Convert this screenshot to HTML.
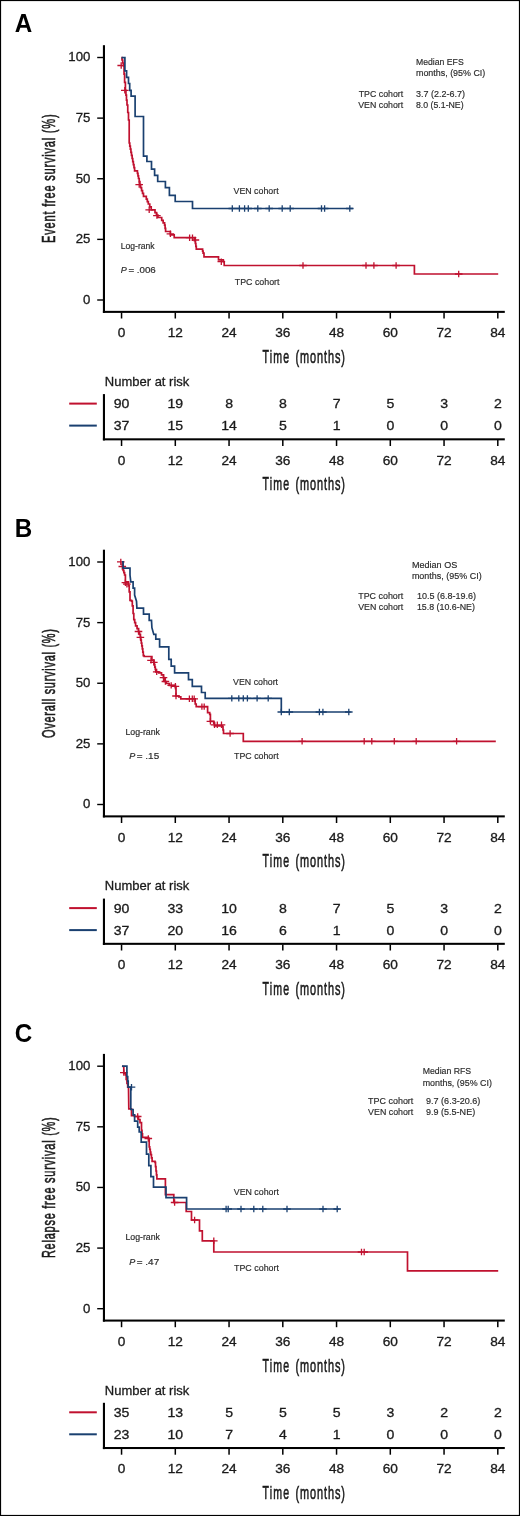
<!DOCTYPE html>
<html><head><meta charset="utf-8"><style>
html,body{margin:0;padding:0;background:#fff;}
body{width:520px;height:1516px;overflow:hidden;}
svg{display:block;will-change:transform;font-family:"Liberation Sans",sans-serif;}
</style></head><body>
<svg width="520" height="1516" viewBox="0 0 520 1516">
<rect x="0" y="0" width="520" height="1516" fill="#fff"/>
<g>
<text transform="translate(14.80,32.10) scale(0.9322,1)" font-size="26" font-weight="bold" font-style="normal" fill="#000">A</text>
<rect x="102.9" y="45.20" width="2.1" height="267.70" fill="#000"/>
<rect x="102.9" y="310.85" width="401.90" height="2.05" fill="#000"/>
<rect x="97.2" y="299.30" width="6" height="1.4" fill="#000"/>
<text transform="translate(83.06,303.90) scale(1.0400,1)" font-size="12.7" font-weight="normal" font-style="normal" fill="#1a1a1a" stroke="#1a1a1a" stroke-width="0.3">0</text>
<rect x="97.2" y="238.68" width="6" height="1.4" fill="#000"/>
<text transform="translate(75.71,243.28) scale(1.0400,1)" font-size="12.7" font-weight="normal" font-style="normal" fill="#1a1a1a" stroke="#1a1a1a" stroke-width="0.3">25</text>
<rect x="97.2" y="178.05" width="6" height="1.4" fill="#000"/>
<text transform="translate(75.71,182.65) scale(1.0400,1)" font-size="12.7" font-weight="normal" font-style="normal" fill="#1a1a1a" stroke="#1a1a1a" stroke-width="0.3">50</text>
<rect x="97.2" y="117.42" width="6" height="1.4" fill="#000"/>
<text transform="translate(75.71,122.03) scale(1.0400,1)" font-size="12.7" font-weight="normal" font-style="normal" fill="#1a1a1a" stroke="#1a1a1a" stroke-width="0.3">75</text>
<rect x="97.2" y="56.80" width="6" height="1.4" fill="#000"/>
<text transform="translate(68.37,61.40) scale(1.0400,1)" font-size="12.7" font-weight="normal" font-style="normal" fill="#1a1a1a" stroke="#1a1a1a" stroke-width="0.3">100</text>
<rect x="120.80" y="312.50" width="1.5" height="6" fill="#000"/>
<text transform="translate(117.75,337.40) scale(1.1200,1)" font-size="12.2" font-weight="normal" font-style="normal" fill="#1a1a1a" stroke="#1a1a1a" stroke-width="0.3">0</text>
<rect x="174.55" y="312.50" width="1.5" height="6" fill="#000"/>
<text transform="translate(167.70,337.40) scale(1.1200,1)" font-size="12.2" font-weight="normal" font-style="normal" fill="#1a1a1a" stroke="#1a1a1a" stroke-width="0.3">12</text>
<rect x="228.30" y="312.50" width="1.5" height="6" fill="#000"/>
<text transform="translate(221.45,337.40) scale(1.1200,1)" font-size="12.2" font-weight="normal" font-style="normal" fill="#1a1a1a" stroke="#1a1a1a" stroke-width="0.3">24</text>
<rect x="282.05" y="312.50" width="1.5" height="6" fill="#000"/>
<text transform="translate(275.20,337.40) scale(1.1200,1)" font-size="12.2" font-weight="normal" font-style="normal" fill="#1a1a1a" stroke="#1a1a1a" stroke-width="0.3">36</text>
<rect x="335.80" y="312.50" width="1.5" height="6" fill="#000"/>
<text transform="translate(328.95,337.40) scale(1.1200,1)" font-size="12.2" font-weight="normal" font-style="normal" fill="#1a1a1a" stroke="#1a1a1a" stroke-width="0.3">48</text>
<rect x="389.55" y="312.50" width="1.5" height="6" fill="#000"/>
<text transform="translate(382.70,337.40) scale(1.1200,1)" font-size="12.2" font-weight="normal" font-style="normal" fill="#1a1a1a" stroke="#1a1a1a" stroke-width="0.3">60</text>
<rect x="443.30" y="312.50" width="1.5" height="6" fill="#000"/>
<text transform="translate(436.45,337.40) scale(1.1200,1)" font-size="12.2" font-weight="normal" font-style="normal" fill="#1a1a1a" stroke="#1a1a1a" stroke-width="0.3">72</text>
<rect x="497.05" y="312.50" width="1.5" height="6" fill="#000"/>
<text transform="translate(490.20,337.40) scale(1.1200,1)" font-size="12.2" font-weight="normal" font-style="normal" fill="#1a1a1a" stroke="#1a1a1a" stroke-width="0.3">84</text>
<text transform="translate(262.60,362.90) scale(0.5819,1)" font-size="18.2" font-weight="normal" font-style="normal" fill="#1a1a1a" stroke="#1a1a1a" stroke-width="0.6" letter-spacing="1.981">Time</text>
<text transform="translate(295.40,362.90) scale(0.5998,1)" font-size="18.2" font-weight="normal" font-style="normal" fill="#1a1a1a" stroke="#1a1a1a" stroke-width="0.6" letter-spacing="1.533">(months)</text>
<text transform="translate(54.90,242.90) rotate(-90) scale(0.5980,1)" font-size="18.6" font-weight="normal" font-style="normal" fill="#1a1a1a" stroke="#1a1a1a" stroke-width="0.6" letter-spacing="1.271">Event free survival (%)</text>
<text transform="translate(416.00,65.40) scale(0.8757,1)" font-size="9.9" font-weight="normal" font-style="normal" fill="#2b2b2b" stroke="#2b2b2b" stroke-width="0.18">Median EFS</text>
<text transform="translate(416.00,76.30) scale(0.9010,1)" font-size="9.9" font-weight="normal" font-style="normal" fill="#2b2b2b" stroke="#2b2b2b" stroke-width="0.18">months, (95% CI)</text>
<text transform="translate(358.75,97.10) scale(0.8889,1)" font-size="9.9" font-weight="normal" font-style="normal" fill="#2b2b2b" stroke="#2b2b2b" stroke-width="0.18">TPC cohort</text>
<text transform="translate(416.00,97.10) scale(0.9087,1)" font-size="9.9" font-weight="normal" font-style="normal" fill="#2b2b2b" stroke="#2b2b2b" stroke-width="0.18">3.7 (2.2-6.7)</text>
<text transform="translate(358.25,107.70) scale(0.8890,1)" font-size="9.9" font-weight="normal" font-style="normal" fill="#2b2b2b" stroke="#2b2b2b" stroke-width="0.18">VEN cohort</text>
<text transform="translate(416.00,107.70) scale(0.8847,1)" font-size="9.9" font-weight="normal" font-style="normal" fill="#2b2b2b" stroke="#2b2b2b" stroke-width="0.18">8.0 (5.1-NE)</text>
<text transform="translate(233.50,194.40) scale(0.8939,1)" font-size="9.9" font-weight="normal" font-style="normal" fill="#2b2b2b" stroke="#2b2b2b" stroke-width="0.18">VEN cohort</text>
<text transform="translate(234.75,284.50) scale(0.8958,1)" font-size="9.9" font-weight="normal" font-style="normal" fill="#2b2b2b" stroke="#2b2b2b" stroke-width="0.18">TPC cohort</text>
<text transform="translate(120.80,248.50) scale(0.9510,1)" font-size="9.0" font-weight="normal" font-style="normal" fill="#2b2b2b" stroke="#2b2b2b" stroke-width="0.18">Log-rank</text>
<text transform="translate(120.80,272.80) scale(1.0000,1)" font-size="9.0" font-weight="normal" font-style="italic" fill="#2b2b2b" stroke="#2b2b2b" stroke-width="0.18">P</text>
<text transform="translate(128.40,272.80) scale(1.0841,1)" font-size="9.0" font-weight="normal" font-style="normal" fill="#2b2b2b" stroke="#2b2b2b" stroke-width="0.18">= .006</text>
<path d="M121.50,57.60 H122.00V60.00 H122.75V63.00 H123.50V66.00 H124.05V74.15 H124.60V82.30 H125.40V90.30 H125.93V95.20 H126.47V100.10 H127.00V105.00 H127.75V112.50 H128.50V120.00 H129.20V143.00 H129.77V146.10 H130.35V149.20 H130.93V152.30 H131.50V155.40 H132.12V158.48 H132.74V161.56 H133.36V164.64 H133.98V167.72 H134.60V170.80 L136.90,170.80 H137.43V173.37 H137.97V175.93 H138.50V178.50 H139.20V181.57 H139.90V184.63 H140.60V187.70 H141.57V190.57 H142.53V193.43 H143.50V196.30 H146.30V199.20 H147.30V201.60 H148.30V204.00 H149.75V206.90 H151.20V209.80 H155.00V212.70 H156.45V215.10 H157.90V217.50 H161.70V220.40 H163.15V222.80 H164.60V225.20 H165.10V228.35 H165.60V231.50 L168.50,231.50 H170.40V234.80 L174.20,234.80 L174.20,237.70 L193.50,237.70 H194.45V240.60 H195.40V243.50 H195.85V246.35 H196.30V249.20 L202.10,249.20 H202.60V251.15 H203.10V253.10 H204.00V256.90 L217.50,256.90 H218.50V259.80 H223.30V261.70 H224.20V265.50 L414.40,265.50 L414.40,274.00 L498.20,274.00" fill="none" stroke="#c0112f" stroke-width="1.7" stroke-linejoin="miter" stroke-linecap="butt"/>
<path d="M117.4,65.5h7.6M121.2,62.3v6.4M121.0,90.3h7.6M124.8,87.1v6.4M135.4,184.6h7.6M139.2,181.4v6.4M145.4,209.8h7.6M149.2,206.6v6.4M153.1,215.6h7.6M156.9,212.4v6.4M166.6,233.8h7.6M170.4,230.6v6.4M185.8,237.7h7.6M189.6,234.5v6.4M188.7,237.7h7.6M192.5,234.5v6.4M191.6,240.0h7.6M195.4,236.8v6.4M217.5,261.7h7.6M221.3,258.5v6.4M299.2,265.5h7.6M303.0,262.3v6.4M362.2,265.5h7.6M366.0,262.3v6.4M370.1,265.5h7.6M373.9,262.3v6.4M392.3,265.5h7.6M396.1,262.3v6.4M454.9,274.0h7.6M458.7,270.8v6.4" fill="none" stroke="#c0112f" stroke-width="1.3"/>
<path d="M121.5,57.6 H124.9 V70.8 H126.6 V77.4 H128.5 V83.5 H129.7 V90.3 H131.1 V96.2 H135.1 V116.5 H143.5 V156.2 H146.9 V161.5 H151.5 V169.2 H154.6 V175.4 H157.7 V181.5 H165.4 V187.7 H169.4 V195.4 H175.2 V201.5 H192.5 V208.5 H352.9" fill="none" stroke="#1a4070" stroke-width="1.7" stroke-linejoin="miter" stroke-linecap="butt"/>
<path d="M228.5,208.5h7.6M232.3,205.3v6.4M235.6,208.5h7.6M239.4,205.3v6.4M240.8,208.5h7.6M244.6,205.3v6.4M244.5,208.5h7.6M248.3,205.3v6.4M254.0,208.5h7.6M257.8,205.3v6.4M265.4,208.5h7.6M269.2,205.3v6.4M278.4,208.5h7.6M282.2,205.3v6.4M286.4,208.5h7.6M290.2,205.3v6.4M317.7,208.5h7.6M321.5,205.3v6.4M320.8,208.5h7.6M324.6,205.3v6.4M346.0,208.5h7.6M349.8,205.3v6.4" fill="none" stroke="#1a4070" stroke-width="1.3"/>
<text transform="translate(104.80,385.80) scale(0.9854,1)" font-size="13.2" font-weight="normal" font-style="normal" fill="#1a1a1a" stroke="#1a1a1a" stroke-width="0.3">Number at risk</text>
<rect x="69.2" y="402.60" width="27.6" height="2" fill="#c0112f"/>
<rect x="69.2" y="424.60" width="27.6" height="2" fill="#1a4070"/>
<rect x="102.9" y="394.10" width="2.1" height="46.30" fill="#000"/>
<rect x="102.9" y="438.30" width="401.90" height="2.05" fill="#000"/>
<rect x="120.80" y="440.00" width="1.5" height="6" fill="#000"/>
<text transform="translate(117.75,464.60) scale(1.1200,1)" font-size="12.2" font-weight="normal" font-style="normal" fill="#1a1a1a" stroke="#1a1a1a" stroke-width="0.3">0</text>
<text transform="translate(113.70,408.00) scale(1.1200,1)" font-size="12.6" font-weight="normal" font-style="normal" fill="#1a1a1a" stroke="#1a1a1a" stroke-width="0.3">90</text>
<text transform="translate(113.70,430.00) scale(1.1200,1)" font-size="12.6" font-weight="normal" font-style="normal" fill="#1a1a1a" stroke="#1a1a1a" stroke-width="0.3">37</text>
<rect x="174.55" y="440.00" width="1.5" height="6" fill="#000"/>
<text transform="translate(167.70,464.60) scale(1.1200,1)" font-size="12.2" font-weight="normal" font-style="normal" fill="#1a1a1a" stroke="#1a1a1a" stroke-width="0.3">12</text>
<text transform="translate(167.45,408.00) scale(1.1200,1)" font-size="12.6" font-weight="normal" font-style="normal" fill="#1a1a1a" stroke="#1a1a1a" stroke-width="0.3">19</text>
<text transform="translate(167.45,430.00) scale(1.1200,1)" font-size="12.6" font-weight="normal" font-style="normal" fill="#1a1a1a" stroke="#1a1a1a" stroke-width="0.3">15</text>
<rect x="228.30" y="440.00" width="1.5" height="6" fill="#000"/>
<text transform="translate(221.45,464.60) scale(1.1200,1)" font-size="12.2" font-weight="normal" font-style="normal" fill="#1a1a1a" stroke="#1a1a1a" stroke-width="0.3">24</text>
<text transform="translate(225.13,408.00) scale(1.1200,1)" font-size="12.6" font-weight="normal" font-style="normal" fill="#1a1a1a" stroke="#1a1a1a" stroke-width="0.3">8</text>
<text transform="translate(221.20,430.00) scale(1.1200,1)" font-size="12.6" font-weight="normal" font-style="normal" fill="#1a1a1a" stroke="#1a1a1a" stroke-width="0.3">14</text>
<rect x="282.05" y="440.00" width="1.5" height="6" fill="#000"/>
<text transform="translate(275.20,464.60) scale(1.1200,1)" font-size="12.2" font-weight="normal" font-style="normal" fill="#1a1a1a" stroke="#1a1a1a" stroke-width="0.3">36</text>
<text transform="translate(278.88,408.00) scale(1.1200,1)" font-size="12.6" font-weight="normal" font-style="normal" fill="#1a1a1a" stroke="#1a1a1a" stroke-width="0.3">8</text>
<text transform="translate(278.88,430.00) scale(1.1200,1)" font-size="12.6" font-weight="normal" font-style="normal" fill="#1a1a1a" stroke="#1a1a1a" stroke-width="0.3">5</text>
<rect x="335.80" y="440.00" width="1.5" height="6" fill="#000"/>
<text transform="translate(328.95,464.60) scale(1.1200,1)" font-size="12.2" font-weight="normal" font-style="normal" fill="#1a1a1a" stroke="#1a1a1a" stroke-width="0.3">48</text>
<text transform="translate(332.63,408.00) scale(1.1200,1)" font-size="12.6" font-weight="normal" font-style="normal" fill="#1a1a1a" stroke="#1a1a1a" stroke-width="0.3">7</text>
<text transform="translate(332.63,430.00) scale(1.1200,1)" font-size="12.6" font-weight="normal" font-style="normal" fill="#1a1a1a" stroke="#1a1a1a" stroke-width="0.3">1</text>
<rect x="389.55" y="440.00" width="1.5" height="6" fill="#000"/>
<text transform="translate(382.70,464.60) scale(1.1200,1)" font-size="12.2" font-weight="normal" font-style="normal" fill="#1a1a1a" stroke="#1a1a1a" stroke-width="0.3">60</text>
<text transform="translate(386.38,408.00) scale(1.1200,1)" font-size="12.6" font-weight="normal" font-style="normal" fill="#1a1a1a" stroke="#1a1a1a" stroke-width="0.3">5</text>
<text transform="translate(386.38,430.00) scale(1.1200,1)" font-size="12.6" font-weight="normal" font-style="normal" fill="#1a1a1a" stroke="#1a1a1a" stroke-width="0.3">0</text>
<rect x="443.30" y="440.00" width="1.5" height="6" fill="#000"/>
<text transform="translate(436.45,464.60) scale(1.1200,1)" font-size="12.2" font-weight="normal" font-style="normal" fill="#1a1a1a" stroke="#1a1a1a" stroke-width="0.3">72</text>
<text transform="translate(440.13,408.00) scale(1.1200,1)" font-size="12.6" font-weight="normal" font-style="normal" fill="#1a1a1a" stroke="#1a1a1a" stroke-width="0.3">3</text>
<text transform="translate(440.13,430.00) scale(1.1200,1)" font-size="12.6" font-weight="normal" font-style="normal" fill="#1a1a1a" stroke="#1a1a1a" stroke-width="0.3">0</text>
<rect x="497.05" y="440.00" width="1.5" height="6" fill="#000"/>
<text transform="translate(490.20,464.60) scale(1.1200,1)" font-size="12.2" font-weight="normal" font-style="normal" fill="#1a1a1a" stroke="#1a1a1a" stroke-width="0.3">84</text>
<text transform="translate(493.88,408.00) scale(1.1200,1)" font-size="12.6" font-weight="normal" font-style="normal" fill="#1a1a1a" stroke="#1a1a1a" stroke-width="0.3">2</text>
<text transform="translate(493.88,430.00) scale(1.1200,1)" font-size="12.6" font-weight="normal" font-style="normal" fill="#1a1a1a" stroke="#1a1a1a" stroke-width="0.3">0</text>
<text transform="translate(262.60,490.40) scale(0.5819,1)" font-size="18.2" font-weight="normal" font-style="normal" fill="#1a1a1a" stroke="#1a1a1a" stroke-width="0.6" letter-spacing="1.981">Time</text>
<text transform="translate(295.40,490.40) scale(0.5998,1)" font-size="18.2" font-weight="normal" font-style="normal" fill="#1a1a1a" stroke="#1a1a1a" stroke-width="0.6" letter-spacing="1.533">(months)</text>
</g>
<g>
<text transform="translate(14.80,537.00) scale(0.9322,1)" font-size="26" font-weight="bold" font-style="normal" fill="#000">B</text>
<rect x="102.9" y="549.70" width="2.1" height="267.70" fill="#000"/>
<rect x="102.9" y="815.35" width="401.90" height="2.05" fill="#000"/>
<rect x="97.2" y="803.80" width="6" height="1.4" fill="#000"/>
<text transform="translate(83.06,808.40) scale(1.0400,1)" font-size="12.7" font-weight="normal" font-style="normal" fill="#1a1a1a" stroke="#1a1a1a" stroke-width="0.3">0</text>
<rect x="97.2" y="743.17" width="6" height="1.4" fill="#000"/>
<text transform="translate(75.71,747.77) scale(1.0400,1)" font-size="12.7" font-weight="normal" font-style="normal" fill="#1a1a1a" stroke="#1a1a1a" stroke-width="0.3">25</text>
<rect x="97.2" y="682.55" width="6" height="1.4" fill="#000"/>
<text transform="translate(75.71,687.15) scale(1.0400,1)" font-size="12.7" font-weight="normal" font-style="normal" fill="#1a1a1a" stroke="#1a1a1a" stroke-width="0.3">50</text>
<rect x="97.2" y="621.92" width="6" height="1.4" fill="#000"/>
<text transform="translate(75.71,626.52) scale(1.0400,1)" font-size="12.7" font-weight="normal" font-style="normal" fill="#1a1a1a" stroke="#1a1a1a" stroke-width="0.3">75</text>
<rect x="97.2" y="561.30" width="6" height="1.4" fill="#000"/>
<text transform="translate(68.37,565.90) scale(1.0400,1)" font-size="12.7" font-weight="normal" font-style="normal" fill="#1a1a1a" stroke="#1a1a1a" stroke-width="0.3">100</text>
<rect x="120.80" y="817.00" width="1.5" height="6" fill="#000"/>
<text transform="translate(117.75,841.90) scale(1.1200,1)" font-size="12.2" font-weight="normal" font-style="normal" fill="#1a1a1a" stroke="#1a1a1a" stroke-width="0.3">0</text>
<rect x="174.55" y="817.00" width="1.5" height="6" fill="#000"/>
<text transform="translate(167.70,841.90) scale(1.1200,1)" font-size="12.2" font-weight="normal" font-style="normal" fill="#1a1a1a" stroke="#1a1a1a" stroke-width="0.3">12</text>
<rect x="228.30" y="817.00" width="1.5" height="6" fill="#000"/>
<text transform="translate(221.45,841.90) scale(1.1200,1)" font-size="12.2" font-weight="normal" font-style="normal" fill="#1a1a1a" stroke="#1a1a1a" stroke-width="0.3">24</text>
<rect x="282.05" y="817.00" width="1.5" height="6" fill="#000"/>
<text transform="translate(275.20,841.90) scale(1.1200,1)" font-size="12.2" font-weight="normal" font-style="normal" fill="#1a1a1a" stroke="#1a1a1a" stroke-width="0.3">36</text>
<rect x="335.80" y="817.00" width="1.5" height="6" fill="#000"/>
<text transform="translate(328.95,841.90) scale(1.1200,1)" font-size="12.2" font-weight="normal" font-style="normal" fill="#1a1a1a" stroke="#1a1a1a" stroke-width="0.3">48</text>
<rect x="389.55" y="817.00" width="1.5" height="6" fill="#000"/>
<text transform="translate(382.70,841.90) scale(1.1200,1)" font-size="12.2" font-weight="normal" font-style="normal" fill="#1a1a1a" stroke="#1a1a1a" stroke-width="0.3">60</text>
<rect x="443.30" y="817.00" width="1.5" height="6" fill="#000"/>
<text transform="translate(436.45,841.90) scale(1.1200,1)" font-size="12.2" font-weight="normal" font-style="normal" fill="#1a1a1a" stroke="#1a1a1a" stroke-width="0.3">72</text>
<rect x="497.05" y="817.00" width="1.5" height="6" fill="#000"/>
<text transform="translate(490.20,841.90) scale(1.1200,1)" font-size="12.2" font-weight="normal" font-style="normal" fill="#1a1a1a" stroke="#1a1a1a" stroke-width="0.3">84</text>
<text transform="translate(262.60,867.40) scale(0.5819,1)" font-size="18.2" font-weight="normal" font-style="normal" fill="#1a1a1a" stroke="#1a1a1a" stroke-width="0.6" letter-spacing="1.981">Time</text>
<text transform="translate(295.40,867.40) scale(0.5998,1)" font-size="18.2" font-weight="normal" font-style="normal" fill="#1a1a1a" stroke="#1a1a1a" stroke-width="0.6" letter-spacing="1.533">(months)</text>
<text transform="translate(54.90,738.00) rotate(-90) scale(0.5882,1)" font-size="18.6" font-weight="normal" font-style="normal" fill="#1a1a1a" stroke="#1a1a1a" stroke-width="0.6" letter-spacing="1.268">Overall survival (%)</text>
<text transform="translate(411.90,568.10) scale(0.9168,1)" font-size="9.9" font-weight="normal" font-style="normal" fill="#2b2b2b" stroke="#2b2b2b" stroke-width="0.18">Median OS</text>
<text transform="translate(411.90,578.50) scale(0.9062,1)" font-size="9.9" font-weight="normal" font-style="normal" fill="#2b2b2b" stroke="#2b2b2b" stroke-width="0.18">months, (95% CI)</text>
<text transform="translate(358.20,599.40) scale(0.9008,1)" font-size="9.9" font-weight="normal" font-style="normal" fill="#2b2b2b" stroke="#2b2b2b" stroke-width="0.18">TPC cohort</text>
<text transform="translate(416.90,599.40) scale(0.9100,1)" font-size="9.9" font-weight="normal" font-style="normal" fill="#2b2b2b" stroke="#2b2b2b" stroke-width="0.18">10.5 (6.8-19.6)</text>
<text transform="translate(358.20,609.80) scale(0.8910,1)" font-size="9.9" font-weight="normal" font-style="normal" fill="#2b2b2b" stroke="#2b2b2b" stroke-width="0.18">VEN cohort</text>
<text transform="translate(416.90,609.80) scale(0.8948,1)" font-size="9.9" font-weight="normal" font-style="normal" fill="#2b2b2b" stroke="#2b2b2b" stroke-width="0.18">15.8 (10.6-NE)</text>
<text transform="translate(233.10,684.75) scale(0.8890,1)" font-size="9.9" font-weight="normal" font-style="normal" fill="#2b2b2b" stroke="#2b2b2b" stroke-width="0.18">VEN cohort</text>
<text transform="translate(234.00,758.75) scale(0.8939,1)" font-size="9.9" font-weight="normal" font-style="normal" fill="#2b2b2b" stroke="#2b2b2b" stroke-width="0.18">TPC cohort</text>
<text transform="translate(125.40,734.60) scale(0.9735,1)" font-size="9.0" font-weight="normal" font-style="normal" fill="#2b2b2b" stroke="#2b2b2b" stroke-width="0.18">Log-rank</text>
<text transform="translate(129.20,758.90) scale(1.0000,1)" font-size="9.0" font-weight="normal" font-style="italic" fill="#2b2b2b" stroke="#2b2b2b" stroke-width="0.18">P</text>
<text transform="translate(136.80,758.90) scale(1.1050,1)" font-size="9.0" font-weight="normal" font-style="normal" fill="#2b2b2b" stroke="#2b2b2b" stroke-width="0.18">= .15</text>
<path d="M122.00,561.80 H122.55V566.10 H123.10V570.40 H123.85V572.70 H124.60V575.00 H125.40V581.90 H128.50V585.80 H129.20V591.90 H130.00V600.40 H131.50V601.20 H132.30V605.80 H133.10V613.50 H133.80V619.60 H134.70V622.70 H135.60V625.80 H137.05V628.65 H138.50V631.50 H139.45V634.40 H140.40V637.30 H140.85V640.20 H141.30V643.10 H141.80V645.95 H142.30V648.80 H142.80V652.20 H143.30V655.60 H144.20V656.50 L150.00,656.50 H151.90V660.40 H153.80V662.30 H154.30V664.70 H154.80V667.10 H155.30V669.50 H155.80V671.90 H158.70V672.90 H161.50V674.80 H163.50V677.70 H164.40V681.50 H166.30V683.50 H169.20V685.40 L172.10,685.40 H175.40V687.30 H176.00V696.00 H178.80V696.90 H180.80V698.80 L195.20,698.80 L195.20,704.00 H196.20V706.60 L207.00,706.60 H207.60V712.70 H209.70V714.40 H210.40V721.30 H213.80V723.10 H214.50V725.80 H222.50V726.50 H223.00V730.00 H223.50V733.50 L243.30,733.50 L243.30,741.30 L495.80,741.30" fill="none" stroke="#c0112f" stroke-width="1.7" stroke-linejoin="miter" stroke-linecap="butt"/>
<path d="M117.0,561.9h7.6M120.8,558.7v6.4M118.5,566.5h7.6M122.3,563.3v6.4M121.6,582.7h7.6M125.4,579.5v6.4M123.1,584.2h7.6M126.9,581.0v6.4M134.7,631.5h7.6M138.5,628.3v6.4M136.6,637.3h7.6M140.4,634.1v6.4M147.2,660.4h7.6M151.0,657.2v6.4M150.0,662.3h7.6M153.8,659.1v6.4M152.9,671.9h7.6M156.7,668.7v6.4M159.7,677.7h7.6M163.5,674.5v6.4M161.6,681.5h7.6M165.4,678.3v6.4M167.4,685.4h7.6M171.2,682.2v6.4M171.6,686.3h7.6M175.4,683.1v6.4M172.2,696.0h7.6M176.0,692.8v6.4M185.6,698.8h7.6M189.4,695.6v6.4M188.5,698.8h7.6M192.3,695.6v6.4M190.4,698.8h7.6M194.2,695.6v6.4M198.1,706.6h7.6M201.9,703.4v6.4M200.4,706.6h7.6M204.2,703.4v6.4M206.6,721.3h7.6M210.4,718.1v6.4M210.7,724.8h7.6M214.5,721.6v6.4M213.5,724.8h7.6M217.3,721.6v6.4M217.7,724.8h7.6M221.5,721.6v6.4M226.3,733.5h7.6M230.1,730.3v6.4M298.3,741.3h7.6M302.1,738.1v6.4M360.4,741.3h7.6M364.2,738.1v6.4M368.0,741.3h7.6M371.8,738.1v6.4M390.5,741.3h7.6M394.3,738.1v6.4M412.4,741.3h7.6M416.2,738.1v6.4M452.8,741.3h7.6M456.6,738.1v6.4" fill="none" stroke="#c0112f" stroke-width="1.3"/>
<path d="M122,561.8 H123.1 V568.1 H130 V575 L130.8,581.9 H133.1 V588.1 H134.6 V595 L136.5,601.2 L136.9,608.1 H143.5 V614.2 H149.2 V620.4 H151.5 L151.9,627.7 L153.8,634.4 H155.8 V639.2 H159.6 V646.9 H168.8 V659.4 H171.2 V666.2 H174.6 V672.9 H188.5 V679.6 H192.3 V686.3 H201.5 V692.5 H205.2 V698.4 H281.3 V712 H350.6" fill="none" stroke="#1a4070" stroke-width="1.7" stroke-linejoin="miter" stroke-linecap="butt"/>
<path d="M228.0,698.4h7.6M231.8,695.2v6.4M235.0,698.4h7.6M238.8,695.2v6.4M239.5,698.4h7.6M243.3,695.2v6.4M243.6,698.4h7.6M247.4,695.2v6.4M253.3,698.4h7.6M257.1,695.2v6.4M264.4,698.4h7.6M268.2,695.2v6.4M277.5,712.0h7.6M281.3,708.8v6.4M285.5,712.0h7.6M289.3,708.8v6.4M315.6,712.0h7.6M319.4,708.8v6.4M319.1,712.0h7.6M322.9,708.8v6.4M345.0,712.0h7.6M348.8,708.8v6.4" fill="none" stroke="#1a4070" stroke-width="1.3"/>
<text transform="translate(104.80,890.30) scale(0.9854,1)" font-size="13.2" font-weight="normal" font-style="normal" fill="#1a1a1a" stroke="#1a1a1a" stroke-width="0.3">Number at risk</text>
<rect x="69.2" y="907.10" width="27.6" height="2" fill="#c0112f"/>
<rect x="69.2" y="929.10" width="27.6" height="2" fill="#1a4070"/>
<rect x="102.9" y="898.60" width="2.1" height="46.30" fill="#000"/>
<rect x="102.9" y="942.80" width="401.90" height="2.05" fill="#000"/>
<rect x="120.80" y="944.50" width="1.5" height="6" fill="#000"/>
<text transform="translate(117.75,969.10) scale(1.1200,1)" font-size="12.2" font-weight="normal" font-style="normal" fill="#1a1a1a" stroke="#1a1a1a" stroke-width="0.3">0</text>
<text transform="translate(113.70,912.50) scale(1.1200,1)" font-size="12.6" font-weight="normal" font-style="normal" fill="#1a1a1a" stroke="#1a1a1a" stroke-width="0.3">90</text>
<text transform="translate(113.70,934.50) scale(1.1200,1)" font-size="12.6" font-weight="normal" font-style="normal" fill="#1a1a1a" stroke="#1a1a1a" stroke-width="0.3">37</text>
<rect x="174.55" y="944.50" width="1.5" height="6" fill="#000"/>
<text transform="translate(167.70,969.10) scale(1.1200,1)" font-size="12.2" font-weight="normal" font-style="normal" fill="#1a1a1a" stroke="#1a1a1a" stroke-width="0.3">12</text>
<text transform="translate(167.45,912.50) scale(1.1200,1)" font-size="12.6" font-weight="normal" font-style="normal" fill="#1a1a1a" stroke="#1a1a1a" stroke-width="0.3">33</text>
<text transform="translate(167.45,934.50) scale(1.1200,1)" font-size="12.6" font-weight="normal" font-style="normal" fill="#1a1a1a" stroke="#1a1a1a" stroke-width="0.3">20</text>
<rect x="228.30" y="944.50" width="1.5" height="6" fill="#000"/>
<text transform="translate(221.45,969.10) scale(1.1200,1)" font-size="12.2" font-weight="normal" font-style="normal" fill="#1a1a1a" stroke="#1a1a1a" stroke-width="0.3">24</text>
<text transform="translate(221.20,912.50) scale(1.1200,1)" font-size="12.6" font-weight="normal" font-style="normal" fill="#1a1a1a" stroke="#1a1a1a" stroke-width="0.3">10</text>
<text transform="translate(221.20,934.50) scale(1.1200,1)" font-size="12.6" font-weight="normal" font-style="normal" fill="#1a1a1a" stroke="#1a1a1a" stroke-width="0.3">16</text>
<rect x="282.05" y="944.50" width="1.5" height="6" fill="#000"/>
<text transform="translate(275.20,969.10) scale(1.1200,1)" font-size="12.2" font-weight="normal" font-style="normal" fill="#1a1a1a" stroke="#1a1a1a" stroke-width="0.3">36</text>
<text transform="translate(278.88,912.50) scale(1.1200,1)" font-size="12.6" font-weight="normal" font-style="normal" fill="#1a1a1a" stroke="#1a1a1a" stroke-width="0.3">8</text>
<text transform="translate(278.88,934.50) scale(1.1200,1)" font-size="12.6" font-weight="normal" font-style="normal" fill="#1a1a1a" stroke="#1a1a1a" stroke-width="0.3">6</text>
<rect x="335.80" y="944.50" width="1.5" height="6" fill="#000"/>
<text transform="translate(328.95,969.10) scale(1.1200,1)" font-size="12.2" font-weight="normal" font-style="normal" fill="#1a1a1a" stroke="#1a1a1a" stroke-width="0.3">48</text>
<text transform="translate(332.63,912.50) scale(1.1200,1)" font-size="12.6" font-weight="normal" font-style="normal" fill="#1a1a1a" stroke="#1a1a1a" stroke-width="0.3">7</text>
<text transform="translate(332.63,934.50) scale(1.1200,1)" font-size="12.6" font-weight="normal" font-style="normal" fill="#1a1a1a" stroke="#1a1a1a" stroke-width="0.3">1</text>
<rect x="389.55" y="944.50" width="1.5" height="6" fill="#000"/>
<text transform="translate(382.70,969.10) scale(1.1200,1)" font-size="12.2" font-weight="normal" font-style="normal" fill="#1a1a1a" stroke="#1a1a1a" stroke-width="0.3">60</text>
<text transform="translate(386.38,912.50) scale(1.1200,1)" font-size="12.6" font-weight="normal" font-style="normal" fill="#1a1a1a" stroke="#1a1a1a" stroke-width="0.3">5</text>
<text transform="translate(386.38,934.50) scale(1.1200,1)" font-size="12.6" font-weight="normal" font-style="normal" fill="#1a1a1a" stroke="#1a1a1a" stroke-width="0.3">0</text>
<rect x="443.30" y="944.50" width="1.5" height="6" fill="#000"/>
<text transform="translate(436.45,969.10) scale(1.1200,1)" font-size="12.2" font-weight="normal" font-style="normal" fill="#1a1a1a" stroke="#1a1a1a" stroke-width="0.3">72</text>
<text transform="translate(440.13,912.50) scale(1.1200,1)" font-size="12.6" font-weight="normal" font-style="normal" fill="#1a1a1a" stroke="#1a1a1a" stroke-width="0.3">3</text>
<text transform="translate(440.13,934.50) scale(1.1200,1)" font-size="12.6" font-weight="normal" font-style="normal" fill="#1a1a1a" stroke="#1a1a1a" stroke-width="0.3">0</text>
<rect x="497.05" y="944.50" width="1.5" height="6" fill="#000"/>
<text transform="translate(490.20,969.10) scale(1.1200,1)" font-size="12.2" font-weight="normal" font-style="normal" fill="#1a1a1a" stroke="#1a1a1a" stroke-width="0.3">84</text>
<text transform="translate(493.88,912.50) scale(1.1200,1)" font-size="12.6" font-weight="normal" font-style="normal" fill="#1a1a1a" stroke="#1a1a1a" stroke-width="0.3">2</text>
<text transform="translate(493.88,934.50) scale(1.1200,1)" font-size="12.6" font-weight="normal" font-style="normal" fill="#1a1a1a" stroke="#1a1a1a" stroke-width="0.3">0</text>
<text transform="translate(262.60,994.90) scale(0.5819,1)" font-size="18.2" font-weight="normal" font-style="normal" fill="#1a1a1a" stroke="#1a1a1a" stroke-width="0.6" letter-spacing="1.981">Time</text>
<text transform="translate(295.40,994.90) scale(0.5998,1)" font-size="18.2" font-weight="normal" font-style="normal" fill="#1a1a1a" stroke="#1a1a1a" stroke-width="0.6" letter-spacing="1.533">(months)</text>
</g>
<g>
<text transform="translate(14.80,1041.70) scale(0.9322,1)" font-size="26" font-weight="bold" font-style="normal" fill="#000">C</text>
<rect x="102.9" y="1053.90" width="2.1" height="267.70" fill="#000"/>
<rect x="102.9" y="1319.55" width="401.90" height="2.05" fill="#000"/>
<rect x="97.2" y="1308.00" width="6" height="1.4" fill="#000"/>
<text transform="translate(83.06,1312.60) scale(1.0400,1)" font-size="12.7" font-weight="normal" font-style="normal" fill="#1a1a1a" stroke="#1a1a1a" stroke-width="0.3">0</text>
<rect x="97.2" y="1247.38" width="6" height="1.4" fill="#000"/>
<text transform="translate(75.71,1251.98) scale(1.0400,1)" font-size="12.7" font-weight="normal" font-style="normal" fill="#1a1a1a" stroke="#1a1a1a" stroke-width="0.3">25</text>
<rect x="97.2" y="1186.75" width="6" height="1.4" fill="#000"/>
<text transform="translate(75.71,1191.35) scale(1.0400,1)" font-size="12.7" font-weight="normal" font-style="normal" fill="#1a1a1a" stroke="#1a1a1a" stroke-width="0.3">50</text>
<rect x="97.2" y="1126.12" width="6" height="1.4" fill="#000"/>
<text transform="translate(75.71,1130.73) scale(1.0400,1)" font-size="12.7" font-weight="normal" font-style="normal" fill="#1a1a1a" stroke="#1a1a1a" stroke-width="0.3">75</text>
<rect x="97.2" y="1065.50" width="6" height="1.4" fill="#000"/>
<text transform="translate(68.37,1070.10) scale(1.0400,1)" font-size="12.7" font-weight="normal" font-style="normal" fill="#1a1a1a" stroke="#1a1a1a" stroke-width="0.3">100</text>
<rect x="120.80" y="1321.20" width="1.5" height="6" fill="#000"/>
<text transform="translate(117.75,1346.10) scale(1.1200,1)" font-size="12.2" font-weight="normal" font-style="normal" fill="#1a1a1a" stroke="#1a1a1a" stroke-width="0.3">0</text>
<rect x="174.55" y="1321.20" width="1.5" height="6" fill="#000"/>
<text transform="translate(167.70,1346.10) scale(1.1200,1)" font-size="12.2" font-weight="normal" font-style="normal" fill="#1a1a1a" stroke="#1a1a1a" stroke-width="0.3">12</text>
<rect x="228.30" y="1321.20" width="1.5" height="6" fill="#000"/>
<text transform="translate(221.45,1346.10) scale(1.1200,1)" font-size="12.2" font-weight="normal" font-style="normal" fill="#1a1a1a" stroke="#1a1a1a" stroke-width="0.3">24</text>
<rect x="282.05" y="1321.20" width="1.5" height="6" fill="#000"/>
<text transform="translate(275.20,1346.10) scale(1.1200,1)" font-size="12.2" font-weight="normal" font-style="normal" fill="#1a1a1a" stroke="#1a1a1a" stroke-width="0.3">36</text>
<rect x="335.80" y="1321.20" width="1.5" height="6" fill="#000"/>
<text transform="translate(328.95,1346.10) scale(1.1200,1)" font-size="12.2" font-weight="normal" font-style="normal" fill="#1a1a1a" stroke="#1a1a1a" stroke-width="0.3">48</text>
<rect x="389.55" y="1321.20" width="1.5" height="6" fill="#000"/>
<text transform="translate(382.70,1346.10) scale(1.1200,1)" font-size="12.2" font-weight="normal" font-style="normal" fill="#1a1a1a" stroke="#1a1a1a" stroke-width="0.3">60</text>
<rect x="443.30" y="1321.20" width="1.5" height="6" fill="#000"/>
<text transform="translate(436.45,1346.10) scale(1.1200,1)" font-size="12.2" font-weight="normal" font-style="normal" fill="#1a1a1a" stroke="#1a1a1a" stroke-width="0.3">72</text>
<rect x="497.05" y="1321.20" width="1.5" height="6" fill="#000"/>
<text transform="translate(490.20,1346.10) scale(1.1200,1)" font-size="12.2" font-weight="normal" font-style="normal" fill="#1a1a1a" stroke="#1a1a1a" stroke-width="0.3">84</text>
<text transform="translate(262.60,1371.60) scale(0.5819,1)" font-size="18.2" font-weight="normal" font-style="normal" fill="#1a1a1a" stroke="#1a1a1a" stroke-width="0.6" letter-spacing="1.981">Time</text>
<text transform="translate(295.40,1371.60) scale(0.5998,1)" font-size="18.2" font-weight="normal" font-style="normal" fill="#1a1a1a" stroke="#1a1a1a" stroke-width="0.6" letter-spacing="1.533">(months)</text>
<text transform="translate(54.90,1258.10) rotate(-90) scale(0.5900,1)" font-size="18.6" font-weight="normal" font-style="normal" fill="#1a1a1a" stroke="#1a1a1a" stroke-width="0.6" letter-spacing="1.294">Relapse free survival (%)</text>
<text transform="translate(422.70,1074.00) scale(0.8814,1)" font-size="9.9" font-weight="normal" font-style="normal" fill="#2b2b2b" stroke="#2b2b2b" stroke-width="0.18">Median RFS</text>
<text transform="translate(422.70,1085.60) scale(0.8984,1)" font-size="9.9" font-weight="normal" font-style="normal" fill="#2b2b2b" stroke="#2b2b2b" stroke-width="0.18">months, (95% CI)</text>
<text transform="translate(368.10,1104.40) scale(0.9028,1)" font-size="9.9" font-weight="normal" font-style="normal" fill="#2b2b2b" stroke="#2b2b2b" stroke-width="0.18">TPC cohort</text>
<text transform="translate(426.00,1104.40) scale(0.9154,1)" font-size="9.9" font-weight="normal" font-style="normal" fill="#2b2b2b" stroke="#2b2b2b" stroke-width="0.18">9.7 (6.3-20.6)</text>
<text transform="translate(368.10,1114.70) scale(0.8930,1)" font-size="9.9" font-weight="normal" font-style="normal" fill="#2b2b2b" stroke="#2b2b2b" stroke-width="0.18">VEN cohort</text>
<text transform="translate(426.00,1114.70) scale(0.9125,1)" font-size="9.9" font-weight="normal" font-style="normal" fill="#2b2b2b" stroke="#2b2b2b" stroke-width="0.18">9.9 (5.5-NE)</text>
<text transform="translate(233.75,1195.40) scale(0.8939,1)" font-size="9.9" font-weight="normal" font-style="normal" fill="#2b2b2b" stroke="#2b2b2b" stroke-width="0.18">VEN cohort</text>
<text transform="translate(234.00,1270.50) scale(0.8988,1)" font-size="9.9" font-weight="normal" font-style="normal" fill="#2b2b2b" stroke="#2b2b2b" stroke-width="0.18">TPC cohort</text>
<text transform="translate(125.40,1240.40) scale(0.9735,1)" font-size="9.0" font-weight="normal" font-style="normal" fill="#2b2b2b" stroke="#2b2b2b" stroke-width="0.18">Log-rank</text>
<text transform="translate(129.20,1264.70) scale(1.0000,1)" font-size="9.0" font-weight="normal" font-style="italic" fill="#2b2b2b" stroke="#2b2b2b" stroke-width="0.18">P</text>
<text transform="translate(136.80,1264.70) scale(1.1050,1)" font-size="9.0" font-weight="normal" font-style="normal" fill="#2b2b2b" stroke="#2b2b2b" stroke-width="0.18">= .47</text>
<path d="M122.00,1066.20 L123.10,1066.50 H123.80V1073.40 H125.40V1074.90 H126.20V1079.50 H126.95V1083.35 H127.70V1087.20 H128.50V1088.00 L128.80,1108.80 L131.50,1108.80 L131.50,1115.70 H134.60V1116.50 L137.70,1116.50 H138.50V1119.50 H140.00V1122.60 H141.50V1124.20 L141.50,1130.30 H142.00V1133.80 H142.50V1137.30 L147.30,1137.30 H148.30V1138.30 H149.20V1146.90 H149.73V1149.47 H150.27V1152.03 H150.80V1154.60 H151.45V1157.95 H152.10V1161.30 H155.00V1162.30 H155.50V1166.65 H156.00V1171.00 H156.45V1174.95 H156.90V1178.90 L165.40,1178.90 L165.40,1194.60 L173.80,1194.60 L173.80,1202.50 L186.20,1202.50 L186.20,1211.50 L191.50,1211.50 L191.50,1220.00 L199.50,1220.00 L199.50,1230.80 L202.30,1230.80 L202.30,1240.80 L213.80,1240.80 L213.80,1252.00 L407.50,1252.00 L407.50,1270.90 L498.20,1270.90" fill="none" stroke="#c0112f" stroke-width="1.7" stroke-linejoin="miter" stroke-linecap="butt"/>
<path d="M120.0,1072.6h7.6M123.8,1069.4v6.4M133.9,1116.5h7.6M137.7,1113.3v6.4M144.5,1138.5h7.6M148.3,1135.3v6.4M170.8,1202.5h7.6M174.6,1199.3v6.4M190.8,1220.0h7.6M194.6,1216.8v6.4M210.0,1240.8h7.6M213.8,1237.6v6.4M357.7,1252.0h7.6M361.5,1248.8v6.4M360.4,1252.0h7.6M364.2,1248.8v6.4" fill="none" stroke="#c0112f" stroke-width="1.3"/>
<path d="M122,1066.2 H126.9 V1076.5 H127.7 V1081.1 H128.2 V1087.2 H130.8 V1109.5 H133.1 V1114.9 H134.6 V1121.1 H137.7 V1127.2 H139.2 V1132 H141.2 V1142.1 H146.5 V1154.2 H148.8 V1165.7 H150.9 V1176.7 H153.5 V1187.1 H166 V1197.7 H186.6 V1209 H339.6" fill="none" stroke="#1a4070" stroke-width="1.7" stroke-linejoin="miter" stroke-linecap="butt"/>
<path d="M127.7,1087.2h7.6M131.5,1084.0v6.4M222.3,1209.0h7.6M226.1,1205.8v6.4M224.4,1209.0h7.6M228.2,1205.8v6.4M237.2,1209.0h7.6M241.0,1205.8v6.4M250.0,1209.0h7.6M253.8,1205.8v6.4M259.0,1209.0h7.6M262.8,1205.8v6.4M283.2,1209.0h7.6M287.0,1205.8v6.4M319.2,1209.0h7.6M323.0,1205.8v6.4M333.4,1209.0h7.6M337.2,1205.8v6.4" fill="none" stroke="#1a4070" stroke-width="1.3"/>
<text transform="translate(104.80,1394.50) scale(0.9854,1)" font-size="13.2" font-weight="normal" font-style="normal" fill="#1a1a1a" stroke="#1a1a1a" stroke-width="0.3">Number at risk</text>
<rect x="69.2" y="1411.30" width="27.6" height="2" fill="#c0112f"/>
<rect x="69.2" y="1433.30" width="27.6" height="2" fill="#1a4070"/>
<rect x="102.9" y="1402.80" width="2.1" height="46.30" fill="#000"/>
<rect x="102.9" y="1447.00" width="401.90" height="2.05" fill="#000"/>
<rect x="120.80" y="1448.70" width="1.5" height="6" fill="#000"/>
<text transform="translate(117.75,1473.30) scale(1.1200,1)" font-size="12.2" font-weight="normal" font-style="normal" fill="#1a1a1a" stroke="#1a1a1a" stroke-width="0.3">0</text>
<text transform="translate(113.70,1416.70) scale(1.1200,1)" font-size="12.6" font-weight="normal" font-style="normal" fill="#1a1a1a" stroke="#1a1a1a" stroke-width="0.3">35</text>
<text transform="translate(113.70,1438.70) scale(1.1200,1)" font-size="12.6" font-weight="normal" font-style="normal" fill="#1a1a1a" stroke="#1a1a1a" stroke-width="0.3">23</text>
<rect x="174.55" y="1448.70" width="1.5" height="6" fill="#000"/>
<text transform="translate(167.70,1473.30) scale(1.1200,1)" font-size="12.2" font-weight="normal" font-style="normal" fill="#1a1a1a" stroke="#1a1a1a" stroke-width="0.3">12</text>
<text transform="translate(167.45,1416.70) scale(1.1200,1)" font-size="12.6" font-weight="normal" font-style="normal" fill="#1a1a1a" stroke="#1a1a1a" stroke-width="0.3">13</text>
<text transform="translate(167.45,1438.70) scale(1.1200,1)" font-size="12.6" font-weight="normal" font-style="normal" fill="#1a1a1a" stroke="#1a1a1a" stroke-width="0.3">10</text>
<rect x="228.30" y="1448.70" width="1.5" height="6" fill="#000"/>
<text transform="translate(221.45,1473.30) scale(1.1200,1)" font-size="12.2" font-weight="normal" font-style="normal" fill="#1a1a1a" stroke="#1a1a1a" stroke-width="0.3">24</text>
<text transform="translate(225.13,1416.70) scale(1.1200,1)" font-size="12.6" font-weight="normal" font-style="normal" fill="#1a1a1a" stroke="#1a1a1a" stroke-width="0.3">5</text>
<text transform="translate(225.13,1438.70) scale(1.1200,1)" font-size="12.6" font-weight="normal" font-style="normal" fill="#1a1a1a" stroke="#1a1a1a" stroke-width="0.3">7</text>
<rect x="282.05" y="1448.70" width="1.5" height="6" fill="#000"/>
<text transform="translate(275.20,1473.30) scale(1.1200,1)" font-size="12.2" font-weight="normal" font-style="normal" fill="#1a1a1a" stroke="#1a1a1a" stroke-width="0.3">36</text>
<text transform="translate(278.88,1416.70) scale(1.1200,1)" font-size="12.6" font-weight="normal" font-style="normal" fill="#1a1a1a" stroke="#1a1a1a" stroke-width="0.3">5</text>
<text transform="translate(278.88,1438.70) scale(1.1200,1)" font-size="12.6" font-weight="normal" font-style="normal" fill="#1a1a1a" stroke="#1a1a1a" stroke-width="0.3">4</text>
<rect x="335.80" y="1448.70" width="1.5" height="6" fill="#000"/>
<text transform="translate(328.95,1473.30) scale(1.1200,1)" font-size="12.2" font-weight="normal" font-style="normal" fill="#1a1a1a" stroke="#1a1a1a" stroke-width="0.3">48</text>
<text transform="translate(332.63,1416.70) scale(1.1200,1)" font-size="12.6" font-weight="normal" font-style="normal" fill="#1a1a1a" stroke="#1a1a1a" stroke-width="0.3">5</text>
<text transform="translate(332.63,1438.70) scale(1.1200,1)" font-size="12.6" font-weight="normal" font-style="normal" fill="#1a1a1a" stroke="#1a1a1a" stroke-width="0.3">1</text>
<rect x="389.55" y="1448.70" width="1.5" height="6" fill="#000"/>
<text transform="translate(382.70,1473.30) scale(1.1200,1)" font-size="12.2" font-weight="normal" font-style="normal" fill="#1a1a1a" stroke="#1a1a1a" stroke-width="0.3">60</text>
<text transform="translate(386.38,1416.70) scale(1.1200,1)" font-size="12.6" font-weight="normal" font-style="normal" fill="#1a1a1a" stroke="#1a1a1a" stroke-width="0.3">3</text>
<text transform="translate(386.38,1438.70) scale(1.1200,1)" font-size="12.6" font-weight="normal" font-style="normal" fill="#1a1a1a" stroke="#1a1a1a" stroke-width="0.3">0</text>
<rect x="443.30" y="1448.70" width="1.5" height="6" fill="#000"/>
<text transform="translate(436.45,1473.30) scale(1.1200,1)" font-size="12.2" font-weight="normal" font-style="normal" fill="#1a1a1a" stroke="#1a1a1a" stroke-width="0.3">72</text>
<text transform="translate(440.13,1416.70) scale(1.1200,1)" font-size="12.6" font-weight="normal" font-style="normal" fill="#1a1a1a" stroke="#1a1a1a" stroke-width="0.3">2</text>
<text transform="translate(440.13,1438.70) scale(1.1200,1)" font-size="12.6" font-weight="normal" font-style="normal" fill="#1a1a1a" stroke="#1a1a1a" stroke-width="0.3">0</text>
<rect x="497.05" y="1448.70" width="1.5" height="6" fill="#000"/>
<text transform="translate(490.20,1473.30) scale(1.1200,1)" font-size="12.2" font-weight="normal" font-style="normal" fill="#1a1a1a" stroke="#1a1a1a" stroke-width="0.3">84</text>
<text transform="translate(493.88,1416.70) scale(1.1200,1)" font-size="12.6" font-weight="normal" font-style="normal" fill="#1a1a1a" stroke="#1a1a1a" stroke-width="0.3">2</text>
<text transform="translate(493.88,1438.70) scale(1.1200,1)" font-size="12.6" font-weight="normal" font-style="normal" fill="#1a1a1a" stroke="#1a1a1a" stroke-width="0.3">0</text>
<text transform="translate(262.60,1499.10) scale(0.5819,1)" font-size="18.2" font-weight="normal" font-style="normal" fill="#1a1a1a" stroke="#1a1a1a" stroke-width="0.6" letter-spacing="1.981">Time</text>
<text transform="translate(295.40,1499.10) scale(0.5998,1)" font-size="18.2" font-weight="normal" font-style="normal" fill="#1a1a1a" stroke="#1a1a1a" stroke-width="0.6" letter-spacing="1.533">(months)</text>
</g>
<rect x="0.5" y="0.5" width="519" height="1515" fill="none" stroke="#000" stroke-width="1.2"/>
</svg>
</body></html>
